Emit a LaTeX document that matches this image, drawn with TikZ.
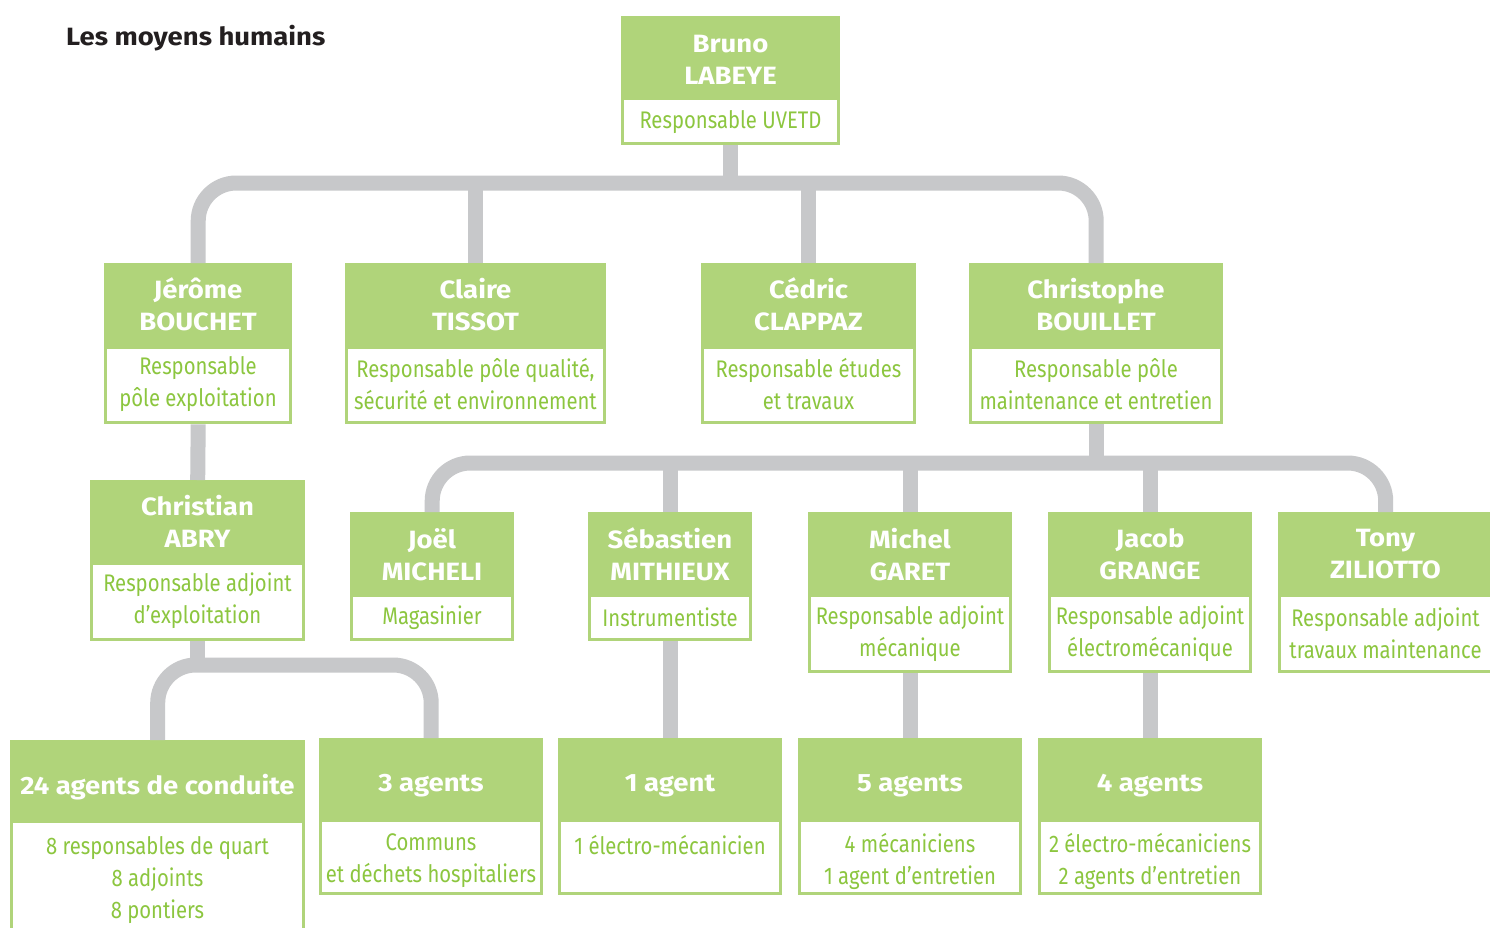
\documentclass[tikz,border=0pt]{standalone}
\usepackage{fontspec}
\setmainfont{Fira Sans}
\newfontfamily\cfont[FakeStretch=0.845]{Fira Sans}
\newfontfamily\hfont[FakeStretch=1.1]{Fira Sans}
\definecolor{hgreen}{HTML}{B0D47A}
\definecolor{tgreen}{HTML}{8CC63F}
\definecolor{lgray}{HTML}{C7C8CA}
\definecolor{ttl}{HTML}{231F20}
\tikzset{
  gbox/.style={fill=hgreen, draw=none, inner sep=0pt},
  wbox/.style={fill=white, draw=none, inner sep=0pt},
  stext/.style={text=tgreen, align=center, inner sep=0pt,
    font=\cfont\fontsize{24}{32}\selectfont},
  htext/.style={text=white, align=center, inner sep=0pt,
    font=\hfont\bfseries\fontsize{25}{32}\selectfont},
  conn/.style={draw=lgray, line width=15pt},
  rconn/.style={conn, rounded corners=38pt}
}
% #1 name, #2 x1, #3 y1, #4 x2, #5 ysplit, #6 y2, #7 header, #8 sub, #9 text offset
\newcommand\obox[9]{%
  \node[gbox, minimum width={(#4-#2)*1pt}, minimum height={(#6-#3)*1pt}, anchor=north west] (#1) at (#2,#3) {};
  \node[wbox, minimum width={(#4-#2-6)*1pt}, minimum height={(#6-#5-3)*1pt}, anchor=north] (#1-w) at ({(#2+#4)/2},#5) {};
  \node[stext] (#1-s) at ({(#2+#4)/2},{(#5+#6-3)/2+#9}) {#8};
  \node[htext] (#1-h) at ({(#2+#4)/2},{(#3+#5)/2+#9+#9/2}) {#7};
}
\begin{document}
\begin{tikzpicture}[x=1pt,y=-1pt]
\useasboundingbox (0,0) rectangle (1490,927);
\fill[white] (0,0) rectangle (1490,927);

\coordinate (bar1) at (730,183);
\coordinate (bar2) at (1095,463);
\coordinate (bar3) at (197,665);

\obox{bruno}{621}{16}{840}{100}{145}{Bruno\\LABEYE}{Responsable UVETD}{1}
\obox{jerome}{104}{263}{292}{349}{424}{Jérôme\\BOUCHET}{Responsable\\pôle exploitation}{-1}
\obox{claire}{345}{263}{606}{349}{424}{Claire\\TISSOT}{Responsable pôle qualité,\\sécurité et environnement}{-1}
\obox{cedric}{701}{263}{916}{349}{424}{Cédric\\CLAPPAZ}{Responsable études\\et travaux}{-1}
\obox{christophe}{969}{263}{1223}{349}{424}{Christophe\\BOUILLET}{Responsable pôle\\maintenance et entretien}{-1}
\obox{christian}{90}{480}{305}{565}{641}{Christian\\ABRY}{Responsable adjoint\\d’exploitation}{-1}
\obox{joel}{350}{512}{514}{597}{641}{Joël\\MICHELI}{Magasinier}{0}
\obox{sebastien}{588}{512}{752}{597}{641}{Sébastien\\MITHIEUX}{Instrumentiste}{0}
\obox{michel}{808}{512}{1012}{597}{673}{Michel\\GARET}{Responsable adjoint\\mécanique}{0}
\obox{jacob}{1048}{512}{1252}{597}{673}{Jacob\\GRANGE}{Responsable adjoint\\électromécanique}{0}
\obox{tony}{1278}{512}{1493}{597}{673}{Tony\\ZILIOTTO}{Responsable adjoint\\travaux maintenance}{0}
\obox{ag24}{10}{740}{305}{823}{932}{24 agents de conduite}{8 responsables de quart\\8 adjoints\\8 pontiers}{4}
\obox{ag3}{319}{738}{543}{822}{895}{3 agents}{Communs\\et déchets hospitaliers}{4}
\obox{ag1}{558}{738}{782}{822}{895}{1 agent}{1 électro-mécanicien\\\mbox{}}{4}
\obox{ag5}{798}{738}{1022}{822}{895}{5 agents}{4 mécaniciens\\1 agent d’entretien}{4}
\obox{ag4}{1038}{738}{1262}{822}{895}{4 agents}{2 électro-mécaniciens\\2 agents d’entretien}{4}

\draw[conn] (bruno.south) -- (bruno.south |- bar1);
\draw[rconn] (jerome.north) -- (jerome.north |- bar1) -- (christophe.north |- bar1) -- (christophe.north);
\draw[conn] (claire.north) -- (claire.north |- bar1);
\draw[conn] (cedric.north) -- (cedric.north |- bar1);

\draw[conn] (christophe.south) -- (christophe.south |- bar2);
\draw[rconn] (joel.north) -- (joel.north |- bar2) -- (tony.north |- bar2) -- (tony.north);
\draw[conn] (sebastien.north) -- (sebastien.north |- bar2);
\draw[conn] (michel.north) -- (michel.north |- bar2);
\draw[conn] (jacob.north) -- (jacob.north |- bar2);

\draw[conn] (jerome.south) -- (christian.north);
\draw[conn] (christian.south) -- (christian.south |- bar3);
\draw[rconn] (ag24.north) -- (ag24.north |- bar3) -- (ag3.north |- bar3) -- (ag3.north);

\draw[conn] (sebastien.south) -- (ag1.north);
\draw[conn] (michel.south) -- (ag5.north);
\draw[conn] (jacob.south) -- (ag4.north);

\node[anchor=base west, inner sep=0pt, text=ttl, font=\hfont\bfseries\fontsize{25}{30}\selectfont] (title) at (66,45) {Les moyens humains};
\end{tikzpicture}
\end{document}
